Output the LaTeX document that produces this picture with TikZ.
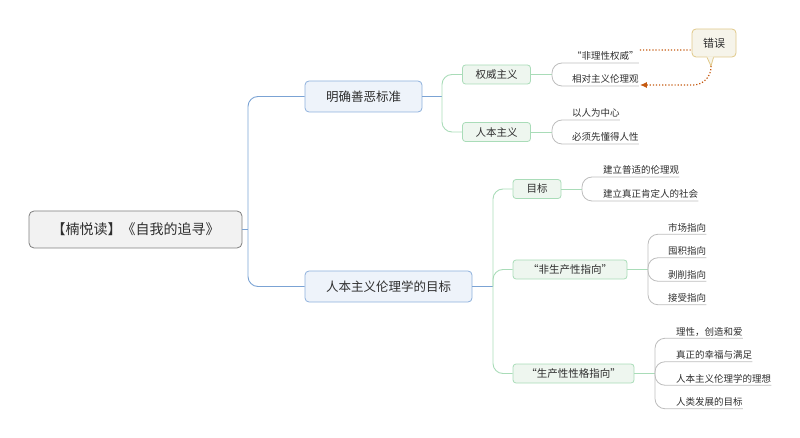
\documentclass[tikz,border=0pt]{standalone}
\usepackage{fontspec}
\setmainfont{Noto Sans CJK SC}
\usetikzlibrary{arrows.meta}
\definecolor{textgray}{HTML}{2E2E2E}
\definecolor{rootfill}{HTML}{F2F2F2}
\definecolor{rootline}{HTML}{7F7F7F}
\definecolor{mainfill}{HTML}{EEF3FA}
\definecolor{mainline}{HTML}{8DB0DC}
\definecolor{bluelink}{HTML}{7BA3D4}
\definecolor{subfill}{HTML}{EEF6EF}
\definecolor{subline}{HTML}{A9DCB8}
\definecolor{leafline}{HTML}{BDBDBD}
\definecolor{notefill}{HTML}{F6F4EA}
\definecolor{noteline}{HTML}{E0C98A}
\definecolor{errcolor}{HTML}{C55A11}

\begin{document}
\begin{tikzpicture}[x=1pt, y=-1pt, text=textgray,
    rootbox/.style={draw=rootline, fill=rootfill, rounded corners=5pt, line width=0.8pt,
      minimum width=213pt, minimum height=37pt, font=\fontsize{14}{16}\selectfont},
    mainbox/.style={draw=mainline, fill=mainfill, rounded corners=4pt, line width=0.8pt,
      minimum height=31pt, font=\fontsize{12.5}{14}\selectfont},
    subbox/.style={draw=subline, fill=subfill, rounded corners=3pt, line width=0.8pt,
      minimum height=19pt, font=\fontsize{10.5}{12}\selectfont},
    leaf/.style={anchor=south west, inner xsep=0pt, inner ysep=1.5pt,
      text height=8pt, text depth=1.5pt, font=\fontsize{9.5}{11}\selectfont},
    notebox/.style={draw=noteline, fill=notefill, rounded corners=4pt, line width=0.8pt,
      minimum width=44pt, minimum height=28pt, font=\fontsize{11}{13}\selectfont},
    mainlink/.style={draw=bluelink, line width=0.9pt, rounded corners=10pt},
    sublink/.style={draw=subline, line width=0.9pt, rounded corners=10pt},
    leaflink/.style={draw=leafline, line width=0.8pt, rounded corners=10pt},
    errline/.style={draw=errcolor, line width=1.2pt, dash pattern=on 1.2pt off 1.9pt}]
  \useasboundingbox (0,0) rectangle (800,438);

  % root and main branches
  \node[rootbox] (root) at (135.5,229.5) {【楠悦读】《自我的追寻》};
  \node[mainbox, minimum width=117pt] (standard) at (363.5,96.5) {明确善恶标准};
  \node[mainbox, minimum width=167pt] (goal) at (388.5,286.5) {人本主义伦理学的目标};
  \coordinate (rootfork) at (248,229.5);
  \draw[mainlink] (root.east) -- (rootfork);
  \draw[mainlink] (rootfork) |- (standard.west);
  \draw[mainlink] (rootfork) |- (goal.west);

  % sub branches
  \node[subbox, minimum width=68pt] (authority) at (496.5,74.5) {权威主义};
  \node[subbox, minimum width=68pt] (humanism) at (496.5,132) {人本主义};
  \node[subbox, minimum width=48pt] (aim) at (537,189) {目标};
  \node[subbox, minimum width=114pt] (nonprod) at (570,269.5) {“非生产性指向”};
  \node[subbox, minimum width=121pt] (prod) at (573.5,373.5) {“生产性性格指向”};
  \coordinate (standardfork) at (442,96.5);
  \coordinate (goalfork) at (493,286.5);
  \draw[mainlink] (standard.east) -- (standardfork);
  \draw[sublink] (standardfork) |- (authority.west);
  \draw[sublink] (standardfork) |- (humanism.west);
  \draw[mainlink] (goal.east) -- (goalfork);
  \draw[sublink] (goalfork) |- (aim.west);
  \draw[sublink] (goalfork) |- (nonprod.west);
  \draw[sublink] (goalfork) |- (prod.west);

  % leaves
  \node[leaf] (irrational) at (572,63) {“非理性权威”};
  \node[leaf] (relative) at (572,86) {相对主义伦理观};
  \node[leaf] (center) at (572,120) {以人为中心};
  \node[leaf] (nature) at (572,144) {必须先懂得人性};
  \node[leaf] (universal) at (603,177) {建立普适的伦理观};
  \node[leaf] (society) at (603,201) {建立真正肯定人的社会};
  \node[leaf] (market) at (668,234.25) {市场指向};
  \node[leaf] (hoarding) at (668,257.75) {囤积指向};
  \node[leaf] (exploit) at (668,281.25) {剥削指向};
  \node[leaf] (receptive) at (668,304.75) {接受指向};
  \node[leaf] (reason) at (676,338.25) {理性，创造和爱};
  \node[leaf] (happy) at (676,361.75) {真正的幸福与满足};
  \node[leaf] (ideal) at (676,385.25) {人本主义伦理学的理想};
  \node[leaf] (develop) at (676,408.75) {人类发展的目标};

  \coordinate (authfork) at (552,74.5);
  \coordinate (humfork) at (552,132);
  \coordinate (aimfork) at (582,189);
  \coordinate (nonfork) at (648,269.5);
  \coordinate (prodfork) at (655,373.5);
  \draw[sublink] (authority.east) -- (authfork);
  \draw[leaflink] (authfork) |- (irrational.south west) -- (irrational.south east);
  \draw[leaflink] (authfork) |- (relative.south west) -- (relative.south east);
  \draw[sublink] (humanism.east) -- (humfork);
  \draw[leaflink] (humfork) |- (center.south west) -- (center.south east);
  \draw[leaflink] (humfork) |- (nature.south west) -- (nature.south east);
  \draw[sublink] (aim.east) -- (aimfork);
  \draw[leaflink] (aimfork) |- (universal.south west) -- (universal.south east);
  \draw[leaflink] (aimfork) |- (society.south west) -- (society.south east);
  \draw[sublink] (nonprod.east) -- (nonfork);
  \draw[leaflink] (nonfork) |- (market.south west) -- (market.south east);
  \draw[leaflink] (nonfork) |- (hoarding.south west) -- (hoarding.south east);
  \draw[leaflink] (nonfork) |- (exploit.south west) -- (exploit.south east);
  \draw[leaflink] (nonfork) |- (receptive.south west) -- (receptive.south east);
  \draw[sublink] (prod.east) -- (prodfork);
  \draw[leaflink] (prodfork) |- (reason.south west) -- (reason.south east);
  \draw[leaflink] (prodfork) |- (happy.south west) -- (happy.south east);
  \draw[leaflink] (prodfork) |- (ideal.south west) -- (ideal.south east);
  \draw[leaflink] (prodfork) |- (develop.south west) -- (develop.south east);

  % note
  \node[notebox] (err) at (714,43) {错误};
  \coordinate (errtip) at (711,66);
  \fill[notefill] ([xshift=-7pt,yshift=1pt]err.south) -- (errtip)
    -- ([xshift=-0.5pt,yshift=1pt]err.south) -- cycle;
  \draw[noteline, line width=0.8pt] ([xshift=-7pt]err.south) -- (errtip)
    -- ([xshift=-0.5pt]err.south);
  \draw[errline] ([xshift=1pt]irrational.north east) -- ([yshift=-7pt]err.west);
  \draw[errline, rounded corners=18pt, -{Latex[length=7pt,width=6pt]}]
    (errtip) |- ([xshift=1pt,yshift=1pt]relative.south east);
\end{tikzpicture}
\end{document}
